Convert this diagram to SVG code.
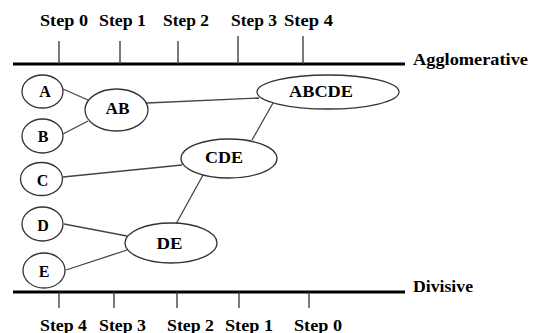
<svg xmlns="http://www.w3.org/2000/svg" width="536" height="333" viewBox="0 0 536 333">
<style>
text{font-family:'Liberation Serif','DejaVu Serif',serif;font-weight:bold;font-size:16px;fill:#000}
.n text{text-anchor:middle}
.n ellipse{fill:#fff;stroke:#333;stroke-width:1.3}
.axis{stroke:#000;stroke-width:3}
.tick{stroke:#333;stroke-width:1.3}
#connectors line{stroke:#444;stroke-width:1.3}
</style>
<rect width="536" height="333" fill="#fff"/>
<g id="axes">
<line class="axis" x1="13" y1="64" x2="405" y2="64"/>
<line class="tick" x1="59" y1="41" x2="59" y2="64"/>
<line class="tick" x1="120" y1="41" x2="120" y2="64"/>
<line class="tick" x1="178" y1="41" x2="178" y2="64"/>
<line class="tick" x1="238" y1="36" x2="238" y2="64"/>
<line class="tick" x1="303" y1="36" x2="303" y2="64"/>
<text x="40" y="26" textLength="48" lengthAdjust="spacingAndGlyphs">Step 0</text>
<text x="99" y="26" textLength="47" lengthAdjust="spacingAndGlyphs">Step 1</text>
<text x="163" y="26" textLength="46" lengthAdjust="spacingAndGlyphs">Step 2</text>
<text x="231" y="26" textLength="46" lengthAdjust="spacingAndGlyphs">Step 3</text>
<text x="284" y="26" textLength="49" lengthAdjust="spacingAndGlyphs">Step 4</text>
<text x="413" y="65" textLength="115" lengthAdjust="spacingAndGlyphs">Agglomerative</text>
<line class="axis" x1="13" y1="292" x2="405" y2="292"/>
<line class="tick" x1="59" y1="292" x2="59" y2="308"/>
<line class="tick" x1="114" y1="292" x2="114" y2="308"/>
<line class="tick" x1="177" y1="292" x2="177" y2="308"/>
<line class="tick" x1="239" y1="292" x2="239" y2="308"/>
<line class="tick" x1="309" y1="292" x2="309" y2="308"/>
<text x="40" y="331" textLength="47" lengthAdjust="spacingAndGlyphs">Step 4</text>
<text x="99" y="331" textLength="47" lengthAdjust="spacingAndGlyphs">Step 3</text>
<text x="167" y="331" textLength="47" lengthAdjust="spacingAndGlyphs">Step 2</text>
<text x="225" y="331" textLength="48" lengthAdjust="spacingAndGlyphs">Step 1</text>
<text x="294" y="331" textLength="48" lengthAdjust="spacingAndGlyphs">Step 0</text>
<text x="413" y="292" textLength="60" lengthAdjust="spacingAndGlyphs">Divisive</text>
</g>
<g id="connectors">
<line x1="63" y1="89" x2="88" y2="100"/>
<line x1="63" y1="134" x2="88" y2="121"/>
<line x1="147" y1="103" x2="259" y2="98"/>
<line x1="273" y1="103" x2="252" y2="140"/>
<line x1="63" y1="177" x2="182" y2="165"/>
<line x1="203" y1="175" x2="176" y2="224"/>
<line x1="64" y1="224" x2="127" y2="236"/>
<line x1="66" y1="270" x2="127" y2="250"/>
</g>
<g id="A" class="n"><ellipse cx="42.5" cy="91.5" rx="20.5" ry="16.5"/><text x="45" y="97">A</text></g>
<g id="B" class="n"><ellipse cx="42.5" cy="136" rx="20.5" ry="17"/><text x="43" y="141.5">B</text></g>
<g id="C" class="n"><ellipse cx="41.5" cy="179" rx="21" ry="16.5"/><text x="42.5" y="186">C</text></g>
<g id="D" class="n"><ellipse cx="42.5" cy="224" rx="20.5" ry="17"/><text x="43" y="230.5">D</text></g>
<g id="E" class="n"><ellipse cx="44" cy="270.5" rx="21" ry="17.5"/><text x="44" y="277">E</text></g>
<g id="AB" class="n"><ellipse cx="116.5" cy="110" rx="31.5" ry="21"/><text x="117.5" y="113.5" textLength="24" lengthAdjust="spacingAndGlyphs">AB</text></g>
<g id="ABCDE" class="n"><ellipse cx="328" cy="92" rx="71" ry="17"/><text x="321" y="97" textLength="64" lengthAdjust="spacingAndGlyphs">ABCDE</text></g>
<g id="CDE" class="n"><ellipse cx="229" cy="158.5" rx="48" ry="19.5"/><text x="224" y="163" textLength="38" lengthAdjust="spacingAndGlyphs">CDE</text></g>
<g id="DE" class="n"><ellipse cx="171" cy="243" rx="46" ry="20"/><text x="169.5" y="248.5" textLength="26" lengthAdjust="spacingAndGlyphs">DE</text></g>
</svg>
